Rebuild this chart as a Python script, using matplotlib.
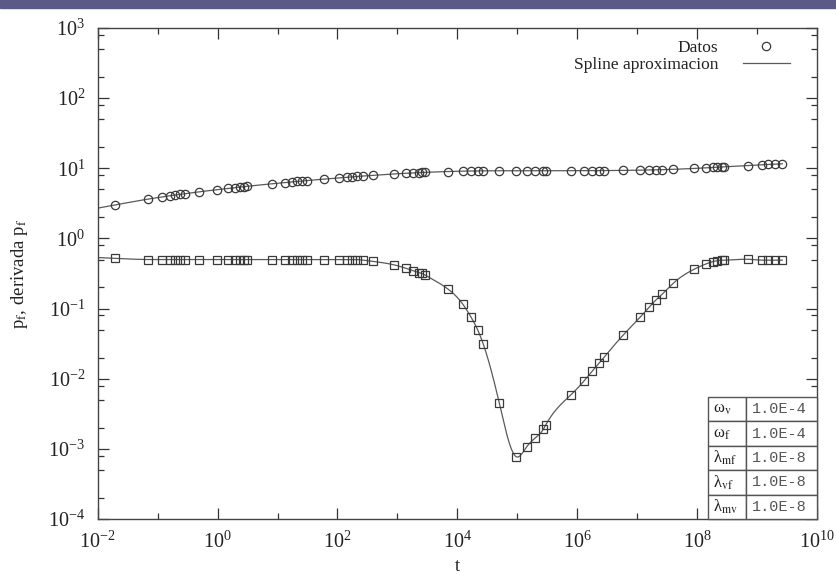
import numpy as np
import matplotlib
matplotlib.use("Agg")
import matplotlib.pyplot as plt
from matplotlib.patches import Rectangle
from matplotlib.ticker import FixedLocator, LogLocator, FuncFormatter, NullFormatter

plt.rcParams['font.family'] = ['Liberation Serif', 'DejaVu Serif']
plt.rcParams['mathtext.fontset'] = 'stix'

# data (log10 of t, then the two series)
log_t = [-1.711, -1.156, -0.932, -0.794, -0.710, -0.627, -0.544, -0.305, -0.005, 0.179,
         0.290, 0.374, 0.441, 0.486, 0.903, 1.125, 1.237, 1.320, 1.403, 1.487,
         1.776, 2.031, 2.154, 2.238, 2.321, 2.431, 2.598, 2.943, 3.143, 3.265,
         3.365, 3.405, 3.460, 3.849, 4.089, 4.223, 4.340, 4.433, 4.700, 4.979,
         5.157, 5.296, 5.434, 5.474, 5.891, 6.113, 6.252, 6.363, 6.447, 6.769,
         7.048, 7.203, 7.314, 7.420, 7.603, 7.948, 8.148, 8.260, 8.337, 8.411,
         8.454, 8.844, 9.078, 9.188, 9.300, 9.421]

p_f = [3.00, 3.64, 3.90, 4.06, 4.15, 4.25, 4.34, 4.62, 4.96, 5.18,
       5.30, 5.40, 5.48, 5.53, 6.01, 6.26, 6.39, 6.49, 6.58, 6.68,
       7.01, 7.31, 7.45, 7.54, 7.64, 7.76, 7.95, 8.32, 8.50, 8.60,
       8.68, 8.71, 8.75, 9.00, 9.11, 9.15, 9.18, 9.20, 9.22, 9.22,
       9.23, 9.23, 9.23, 9.23, 9.24, 9.25, 9.26, 9.27, 9.28, 9.33,
       9.40, 9.46, 9.51, 9.56, 9.67, 9.95, 10.15, 10.27, 10.36, 10.44,
       10.49, 10.94, 11.21, 11.34, 11.47, 11.61]

deriv_pf = [0.52, 0.50, 0.50, 0.50, 0.50, 0.50, 0.50, 0.50, 0.50, 0.50,
            0.50, 0.50, 0.50, 0.50, 0.50, 0.50, 0.50, 0.50, 0.50, 0.50,
            0.50, 0.50, 0.50, 0.50, 0.50, 0.49, 0.47, 0.42, 0.375, 0.345,
            0.325, 0.318, 0.301, 0.188, 0.116, 0.0767, 0.0495, 0.031, 0.00447, 0.000774,
            0.00107, 0.00142, 0.0019, 0.00219, 0.00586, 0.00929, 0.0129, 0.0166, 0.0202, 0.0421,
            0.0752, 0.106, 0.133, 0.161, 0.230, 0.363, 0.433, 0.467, 0.482, 0.489,
            0.49, 0.505, 0.49, 0.49, 0.49, 0.49]

param_names = ['ω$_\\mathrm{v}$', 'ω$_\\mathrm{f}$', 'λ$_\\mathrm{mf}$',
               'λ$_\\mathrm{vf}$', 'λ$_\\mathrm{mv}$']
param_values = ['1.0E-4', '1.0E-4', '1.0E-8', '1.0E-8', '1.0E-8']


def natural_spline(x, y, xs):
    # plain natural cubic spline in log-log space
    x = np.asarray(x, float)
    y = np.asarray(y, float)
    n = len(x)
    h = np.diff(x)
    A = np.zeros((n, n))
    b = np.zeros(n)
    A[0, 0] = A[-1, -1] = 1
    for i in range(1, n - 1):
        A[i, i - 1] = h[i - 1]
        A[i, i] = 2 * (h[i - 1] + h[i])
        A[i, i + 1] = h[i]
        b[i] = 3 * ((y[i + 1] - y[i]) / h[i] - (y[i] - y[i - 1]) / h[i - 1])
    c = np.linalg.solve(A, b)
    bc = (y[1:] - y[:-1]) / h - h * (2 * c[:-1] + c[1:]) / 3
    d = (c[1:] - c[:-1]) / (3 * h)
    idx = np.clip(np.searchsorted(x, xs) - 1, 0, n - 2)
    dx = xs - x[idx]
    return y[idx] + bc[idx] * dx + c[idx] * dx ** 2 + d[idx] * dx ** 3


t = 10 ** np.array(log_t)
fine = np.linspace(-2, log_t[-1], 800)
spl_p = 10 ** natural_spline(log_t, np.log10(p_f), fine)
spl_d = 10 ** natural_spline(log_t, np.log10(deriv_pf), fine)

fig = plt.figure(figsize=(8.36, 5.8), dpi=100)
fig.patches.append(Rectangle((0, 1 - 8 / 580), 1, 8 / 580, transform=fig.transFigure,
                             color='#5b5a86', zorder=-5))
ax = fig.add_axes([0.1169, 0.1052, 0.8604, 0.8465])

line_col = '#5a5a5a'
mark_col = '#3a3a3a'
ax.plot(10 ** fine, spl_p, color=line_col, lw=0.9, label='Spline aproximacion', zorder=2)
ax.plot(10 ** fine, spl_d, color=line_col, lw=0.9, zorder=2)
ax.plot(t, p_f, ls='none', marker='o', ms=6, mfc='none', mec=mark_col, mew=0.9,
        label='Datos', zorder=3)
ax.plot(t, deriv_pf, ls='none', marker='s', ms=6, mfc='none', mec=mark_col, mew=0.9, zorder=3)

ax.set_xscale('log')
ax.set_yscale('log')
ax.set_xlim(1e-2, 1e10)
ax.set_ylim(1e-4, 1e3)

ax.xaxis.set_major_locator(FixedLocator([10.0 ** k for k in range(-2, 11, 2)]))
ax.xaxis.set_minor_locator(FixedLocator([10.0 ** k for k in range(-1, 10, 2)]))
ax.yaxis.set_major_locator(FixedLocator([10.0 ** k for k in range(-4, 4)]))
ax.yaxis.set_minor_locator(LogLocator(base=10, subs=(2, 5, 8), numticks=20))
fmt = FuncFormatter(lambda v, p: '$\\mathdefault{10^{%d}}$' % round(np.log10(v)))
ax.xaxis.set_major_formatter(fmt)
ax.yaxis.set_major_formatter(fmt)
ax.xaxis.set_minor_formatter(NullFormatter())
ax.yaxis.set_minor_formatter(NullFormatter())

ax.tick_params(which='both', direction='in', top=True, right=True, colors='#333333',
               labelcolor='#222222', width=0.9)
ax.tick_params(which='major', length=8, labelsize=14.5)
ax.tick_params(which='minor', length=4)
ax.tick_params(axis='x', which='major', pad=9)
ax.tick_params(axis='y', which='major', pad=9)
for s in ax.spines.values():
    s.set_color('#444444')
    s.set_linewidth(1.0)

ax.set_xlabel('t', fontsize=13.5, color='#222222')
ax.set_ylabel('p$_\\mathrm{f}$, derivada p$_\\mathrm{f}$', fontsize=13.5, color='#222222')
ax.xaxis.set_label_coords(0.5, -0.08)
ax.yaxis.set_label_coords(-0.094, 0.5)

h, l = ax.get_legend_handles_labels()
leg = ax.legend(h[::-1], l[::-1], loc='upper right', bbox_to_anchor=(0.962, 0.975),
                markerfirst=False, frameon=False, fontsize=12.5, handlelength=2.7,
                handletextpad=1.4, labelspacing=0.0, borderpad=0, borderaxespad=0,
                numpoints=1)
for txt in leg.get_texts():
    txt.set_color('#222222')

tab = ax.table(cellText=[[n, v] for n, v in zip(param_names, param_values)],
               colWidths=[0.35, 0.65], bbox=[0.8485, 0.0, 0.1515, 0.2485],
               cellLoc='left', zorder=4)
tab.auto_set_font_size(False)
for (r, c), cell in tab.get_celld().items():
    cell.set_edgecolor('#555555')
    cell.set_linewidth(1.0)
    cell.set_facecolor('white')
    txt = cell.get_text()
    if c == 0:
        txt.set_fontsize(12)
        txt.set_color('#222222')
        cell.PAD = 0.12
    else:
        txt.set_fontsize(11)
        txt.set_family('Liberation Mono')
        txt.set_color('#555555')
        cell.PAD = 0.08

fig.savefig('out.png', dpi=100)
